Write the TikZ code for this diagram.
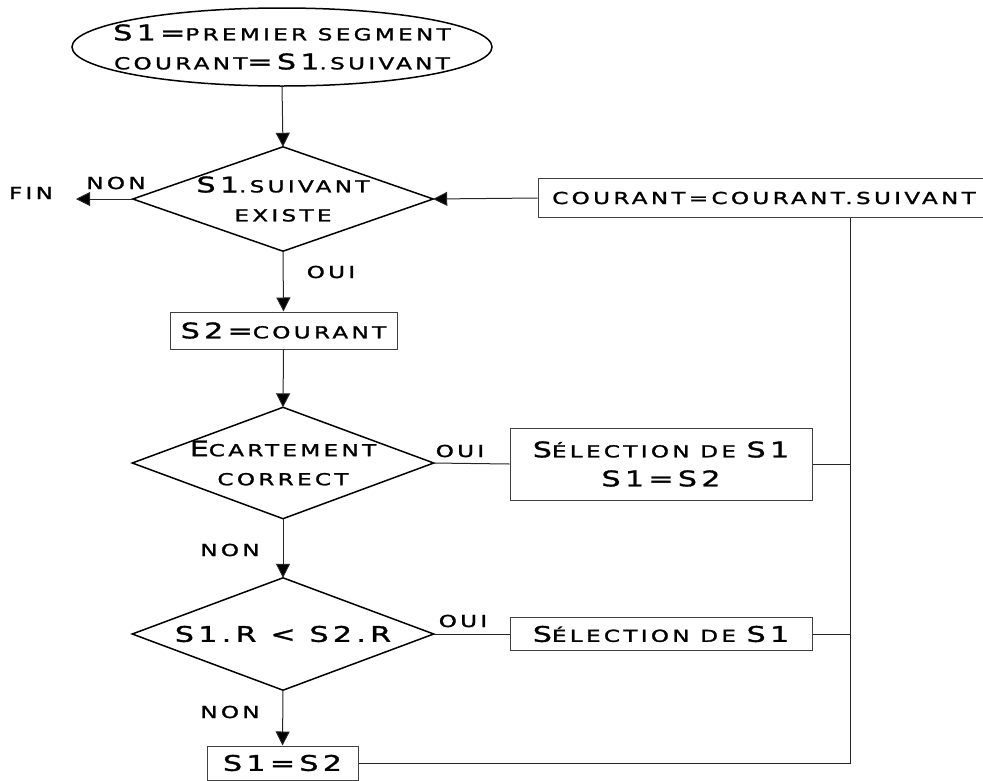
\documentclass[tikz,border=0pt]{standalone}
\usepackage{fontspec}
\usetikzlibrary{shapes.geometric,arrows.meta,calc}
\newfontfamily\bgfont[FakeStretch=1.4,LetterSpace=20,FakeBold=1.5]{DejaVu Sans}
\newcommand\Bg[1]{{\fontsize{21.5}{29}\selectfont #1}}
\begin{document}
\begin{tikzpicture}[x=1pt,y=-1pt,
  every node/.style={font=\bgfont\fontsize{16.5}{29}\selectfont, inner sep=0pt},
  thick shape/.style={line width=1.5pt, draw=black},
  procbox/.style={draw=black!75, line width=1pt, rectangle},
  decision/.style={rectangle, draw=none},
  conn/.style={line width=1pt, draw=black!85},
  arr/.style={conn, -{Triangle[length=14pt,width=14pt,fill=black]}},
  lbl/.style={}
]
\useasboundingbox (0,0) rectangle (983,780);

% start ellipse
\node[decision, minimum width=420pt, minimum height=78pt, align=center] (start) at (282,47)
  {\Bg{S1=}PREMIER SEGMENT\\COURANT\Bg{=S1}.SUIVANT};
\draw[thick shape] (start.center) ellipse [x radius=210pt, y radius=39pt];

% decision 1
\node[decision, minimum width=300pt, minimum height=104pt, align=center] (d1) at (283,199)
  {\Bg{S1}.SUIVANT\\EXISTE};
\draw[thick shape] (d1.north) -- (d1.east) -- (d1.south) -- (d1.west) -- cycle;

% loop box
\node[procbox, minimum width=452pt, minimum height=39pt] (cbox) at (764,198)
  {COURANT=COURANT.SUIVANT};

% S2 box
\node[procbox, minimum width=227pt, minimum height=37pt] (s2) at (283.5,330.5)
  {\Bg{S2=}COURANT};

% decision 2
\node[decision, minimum width=301pt, minimum height=111pt, align=center] (d2) at (283,463)
  {\Bg{E}CARTEMENT\\CORRECT};
\draw[thick shape] (d2.north) -- (d2.east) -- (d2.south) -- (d2.west) -- cycle;

% selection box 1
\node[procbox, minimum width=302pt, minimum height=72pt, align=center] (sel1) at (661,464)
  {\Bg{S}ÉLECTION DE \Bg{S1}\\\Bg{S1=S2}};

% decision 3
\node[decision, minimum width=301pt, minimum height=112pt] (d3) at (283,634)
  {\Bg{S1.R < S2.R}};
\draw[thick shape] (d3.north) -- (d3.east) -- (d3.south) -- (d3.west) -- cycle;

% selection box 2
\node[procbox, minimum width=302pt, minimum height=33pt] (sel2) at (661,634)
  {\Bg{S}ÉLECTION DE \Bg{S1}};

% S1=S2 box
\node[procbox, minimum width=151pt, minimum height=34pt] (s12) at (282.5,763)
  {\Bg{S1=S2}};

% labels
\node[lbl] (fin) at (31,193) {FIN};
\node[lbl] (non1) at (116,183) {NON};
\node[lbl] (oui1) at (331,272) {OUI};
\node[lbl] (oui2) at (460,451) {OUI};
\node[lbl] (non2) at (230,550) {NON};
\node[lbl] (oui3) at (463,621) {OUI};
\node[lbl] (non3) at (230,712) {NON};

\coordinate (finend) at (76,199);
\coordinate (rail) at (850,0);

% connectors
\draw[arr] (start.south) -- (d1.north);
\draw[arr] (d1.west) -- (finend);
\draw[arr] (cbox.west) -- (d1.east);
\draw[arr] (d1.south) -- (s2.north);
\draw[arr] (s2.south) -- (d2.north);
\draw[conn] (d2.east) -- (sel1.west);
\draw[conn] (sel1.east) -- (sel1.east -| rail);
\draw[arr] (d2.south) -- (d3.north);
\draw[conn] (d3.east) -- (sel2.west);
\draw[conn] (sel2.east) -- (sel2.east -| rail);
\draw[arr] (d3.south) -- (s12.north);
\draw[conn] (s12.east) -| (cbox.south -| rail);
\end{tikzpicture}
\end{document}
